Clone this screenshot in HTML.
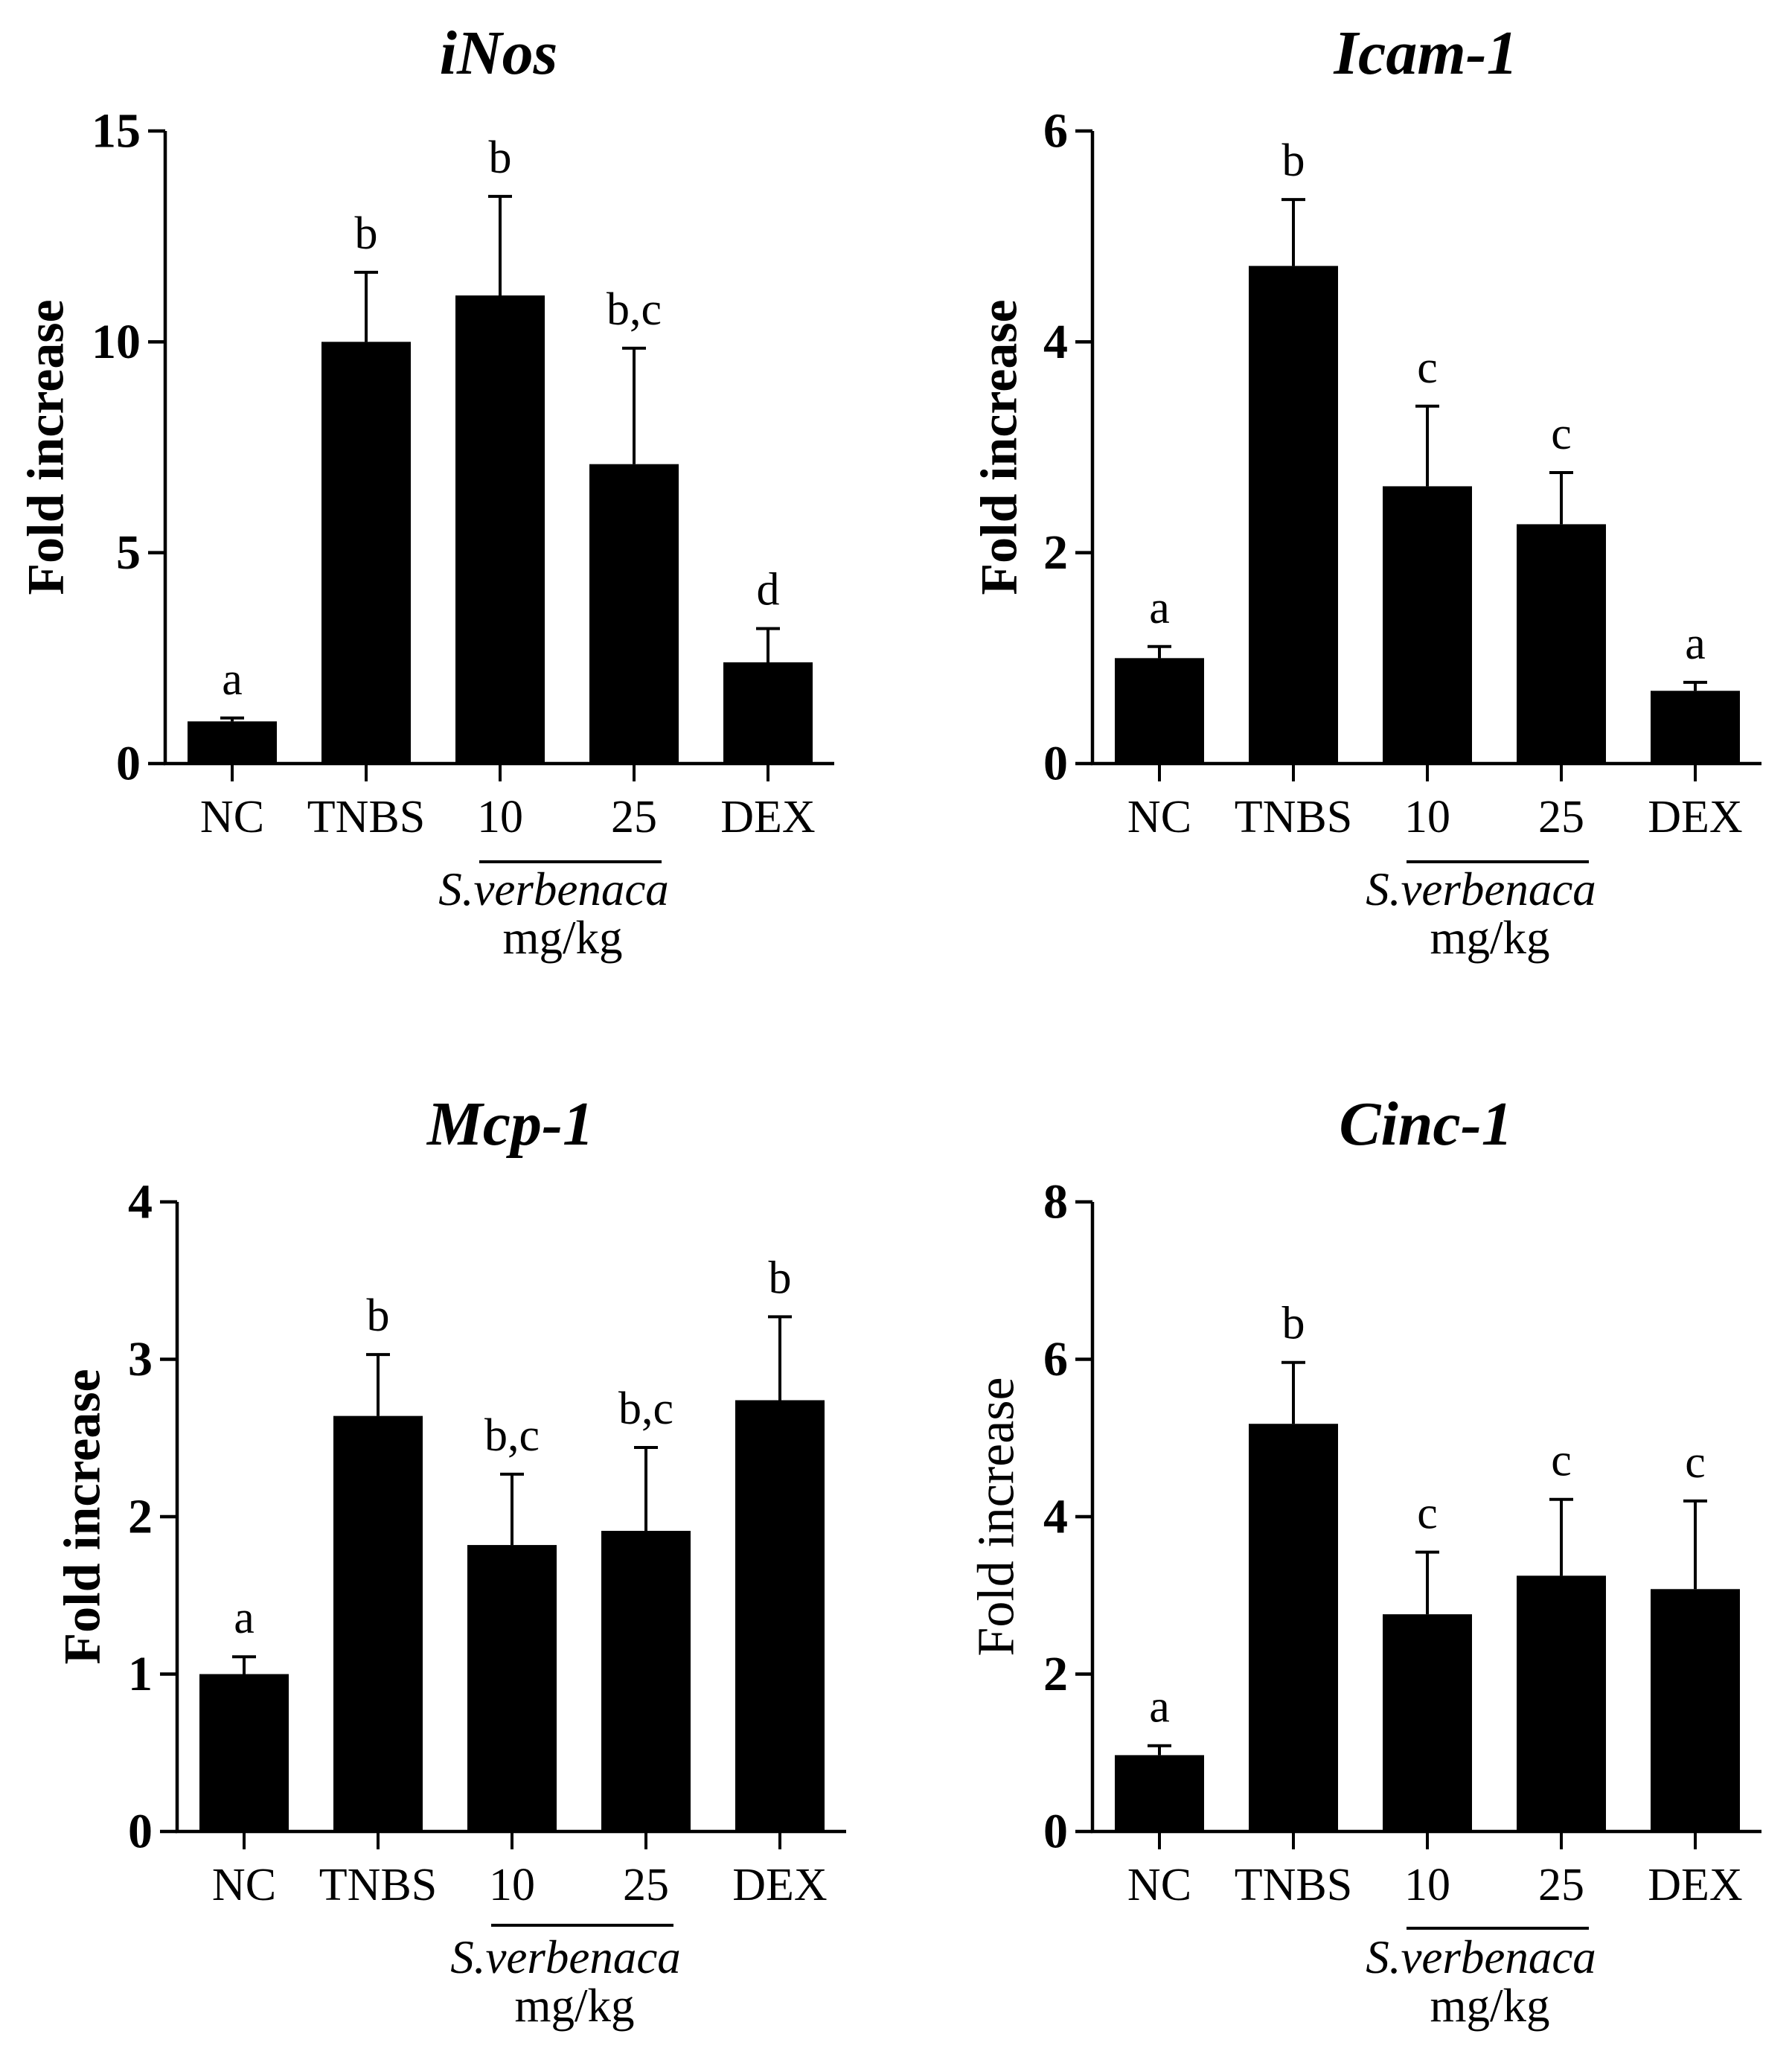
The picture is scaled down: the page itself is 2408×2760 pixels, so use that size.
<!DOCTYPE html>
<html><head><meta charset="utf-8">
<style>
html,body{margin:0;padding:0;background:#fff;}
svg{display:block;font-family:"Liberation Serif",serif;}
</style></head>
<body>
<svg id="fig" width="2408" height="2760" viewBox="0 0 2408 2760" xmlns="http://www.w3.org/2000/svg">
<rect width="2408" height="2760" fill="#fff"/>
</svg>
<script>
const categories = ["NC","TNBS","10","25","DEX"];
const inosValues = [1.0, 10.0, 11.1, 7.1, 2.4];
const inosErrors = [1.08, 11.65, 13.45, 9.85, 3.2];
const inosLetters = ["a","b","b","b,c","d"];
const inosTicks = [0,5,10,15];
const icamValues = [1.0, 4.72, 2.63, 2.27, 0.69];
const icamErrors = [1.11, 5.35, 3.39, 2.76, 0.77];
const icamLetters = ["a","b","c","c","a"];
const icamTicks = [0,2,4,6];
const mcpValues = [1.0, 2.64, 1.82, 1.91, 2.74];
const mcpErrors = [1.11, 3.03, 2.27, 2.44, 3.27];
const mcpLetters = ["a","b","b,c","b,c","b"];
const mcpTicks = [0,1,2,3,4];
const cincValues = [0.97, 5.18, 2.76, 3.25, 3.08];
const cincErrors = [1.09, 5.96, 3.55, 4.22, 4.2];
const cincLetters = ["a","b","c","c","c"];
const cincTicks = [0,2,4,6,8];

const NS = "http://www.w3.org/2000/svg";
const svg = document.getElementById("fig");
function mk(tag, attrs, parent, text){
  const e = document.createElementNS(NS, tag);
  for (const k in attrs) e.setAttribute(k, attrs[k]);
  if (text !== undefined) e.textContent = text;
  parent.appendChild(e);
  return e;
}

function panel(cfg){
  const g = mk("g", {}, svg);
  
  
  const ax = cfg.ax, y0 = cfg.y0, top = cfg.top;
  const ymax = cfg.ticks[cfg.ticks.length-1];
  const yScale = v => y0 - (v / ymax) * (y0 - top);
  const xScale = i => ax + 90 + i * 180;

  const t = mk("text", {x: ax+448, y: top-77, "text-anchor":"middle", "font-size":84, "font-weight":"bold", "font-style":"italic"}, g, cfg.title);
  
  

  const yl = mk("text", {transform:`translate(${ax-cfg.ylx},${(y0+top)/2}) rotate(-90)`, "text-anchor":"middle", "dominant-baseline":"central", "font-size":70, "font-weight":cfg.ylBold?"bold":"normal"}, g, "Fold increase");
  
  

  cfg.values.forEach((v,i)=>{
    const cx = xScale(i);
    const bar = mk("rect", {x: cx-60, y: yScale(v), width:120, height: y0 - yScale(v), fill:"#000"}, g);
    
    
    const ey = yScale(cfg.errors[i]);
    const eb = mk("path", {d:`M${cx},${yScale(v)} L${cx},${ey} M${cx-16},${ey} L${cx+16},${ey}`, stroke:"#000", "stroke-width":4, fill:"none"}, g);
    
    
    const lt = mk("text", {x:cx, y: ey-32, "text-anchor":"middle", "font-size":62}, g, cfg.letters[i]);
    
    
    const tk = mk("line", {x1:cx, x2:cx, y1:y0, y2:y0+24, stroke:"#000", "stroke-width":4}, g);
    
    
    const cl = mk("text", {x:cx, y:y0+92, "text-anchor":"middle", "font-size":62}, g, categories[i]);
    
    
  });

  const axes = mk("path", {d:`M${ax},${top} L${ax},${y0} L${ax+899},${y0}`, stroke:"#000", "stroke-width":4.5, fill:"none"}, g);
  
  
  cfg.ticks.forEach(tv=>{
    const y = yScale(tv);
    const tk = mk("line", {x1:ax-23, x2:ax, y1:y, y2:y, stroke:"#000", "stroke-width":4.5}, g);
    
    
    const tl = mk("text", {x:ax-33, y:y, "text-anchor":"end", "dominant-baseline":"central", "font-size":66, "font-weight":"bold"}, g, String(tv));
    
    
  });

  const br = mk("line", {x1:ax+422, x2:ax+667, y1:y0+cfg.brY, y2:y0+cfg.brY, stroke:"#000", "stroke-width":4}, g);
  
  
  const sv = mk("text", {x:ax+522, y:y0+190, "text-anchor":"middle", "font-size":63, "font-style":"italic"}, g, "S.verbenaca");
  
  
  const mg = mk("text", {x:ax+534, y:y0+255, "text-anchor":"middle", "font-size":63}, g, "mg/kg");
  
  
}

panel({name:"inos", title:"iNos", ax:222, y0:1026, top:176, ylx:160, ylBold:true, brY:132, values:inosValues, errors:inosErrors, letters:inosLetters, ticks:inosTicks});
panel({name:"icam", title:"Icam-1", ax:1468, y0:1026, top:176, ylx:125, ylBold:true, brY:132, values:icamValues, errors:icamErrors, letters:icamLetters, ticks:icamTicks});
panel({name:"mcp", title:"Mcp-1", ax:238, y0:2461, top:1615, ylx:127, ylBold:true, brY:126, values:mcpValues, errors:mcpErrors, letters:mcpLetters, ticks:mcpTicks});
panel({name:"cinc", title:"Cinc-1", ax:1468, y0:2461, top:1615, ylx:129, ylBold:false, brY:130, values:cincValues, errors:cincErrors, letters:cincLetters, ticks:cincTicks});
</script>
</body></html>
